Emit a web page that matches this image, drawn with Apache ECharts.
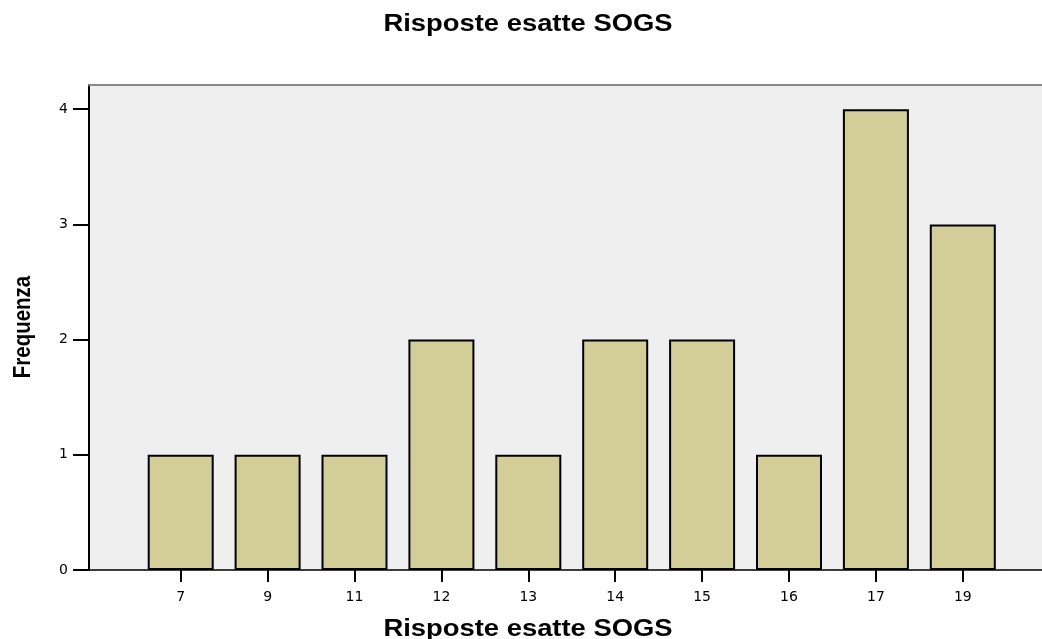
<!DOCTYPE html>
<html>
<head>
<meta charset="utf-8">
<script src="https://cdn.jsdelivr.net/npm/echarts@6/dist/echarts.min.js"></script>
<style>html,body{margin:0;padding:0;background:#fff;}#c{width:1042px;height:639px;}</style>
</head>
<body>
<div id="c"></div>
<script>
const categories = ['7','9','11','12','13','14','15','16','17','19'];
const frequencies = [1,1,1,2,1,2,2,1,4,3];
const yTicks = [0,1,2,3,4];
const titleText = 'Risposte esatte SOGS';
const xAxisTitle = 'Risposte esatte SOGS';
const yAxisTitle = 'Frequenza';

const boldFont = 'bold 23px "Liberation Sans", Arial, sans-serif';
const tickFont = 'DejaVu Sans';
const chart = echarts.init(document.getElementById('c'), null, {renderer:'canvas'});
const yMax = 4.21;
chart.setOption({
  animation:false,
  backgroundColor:'#ffffff',
  graphic:[
    {type:'text', x:528, y:24.5, scaleX:1.19, silent:true,
     style:{text:titleText, font:boldFont, fill:'#000', textAlign:'center', textVerticalAlign:'middle'}},
    {type:'text', x:528, y:630, scaleX:1.19, silent:true,
     style:{text:xAxisTitle, font:boldFont, fill:'#000', textAlign:'center', textVerticalAlign:'middle'}},
    {type:'text', x:23, y:327, rotation:Math.PI/2, scaleY:1.19, silent:true,
     style:{text:yAxisTitle, font:'bold 20.5px "Liberation Sans", Arial, sans-serif', fill:'#000', textAlign:'center', textVerticalAlign:'middle'}}
  ],
  grid:[
    {left:89, right:0, top:85, bottom:69, show:true, backgroundColor:'#efefef', borderWidth:0},
    {left:137.25, width:869, top:85, bottom:69}
  ],
  xAxis:[
    {gridIndex:0, type:'value', min:0, max:1, position:'bottom',
     axisLine:{show:true, lineStyle:{color:'#000', width:1.5}}, axisTick:{show:false},
     axisLabel:{show:false}, splitLine:{show:false}},
    {gridIndex:0, type:'value', min:0, max:1, position:'top',
     axisLine:{show:true, lineStyle:{color:'#888', width:2}}, axisTick:{show:false},
     axisLabel:{show:false}, splitLine:{show:false}},
    {gridIndex:1, type:'category', data:categories,
     axisLine:{show:false},
     axisTick:{show:true, alignWithLabel:true, length:12, lineStyle:{color:'#000', width:2}},
     axisLabel:{margin:20, fontFamily:tickFont, fontSize:14, color:'#000'}}
  ],
  yAxis:[
    {gridIndex:0, type:'value', min:0, max:yMax, interval:1,
     axisLine:{show:true, lineStyle:{color:'#000', width:2}},
     axisTick:{show:true, length:16, customValues:yTicks, lineStyle:{color:'#000', width:2}},
     axisLabel:{margin:21, fontFamily:tickFont, fontSize:14, color:'#000', customValues:yTicks},
     splitLine:{show:false}},
    {gridIndex:1, type:'value', min:0, max:yMax, interval:1, show:false, splitLine:{show:false}}
  ],
  series:[{
    type:'bar', xAxisIndex:2, yAxisIndex:1, data:frequencies, barWidth:66,
    itemStyle:{color:'#d3cd98', borderColor:'#000', borderWidth:2}
  }]
});
</script>
</body>
</html>
